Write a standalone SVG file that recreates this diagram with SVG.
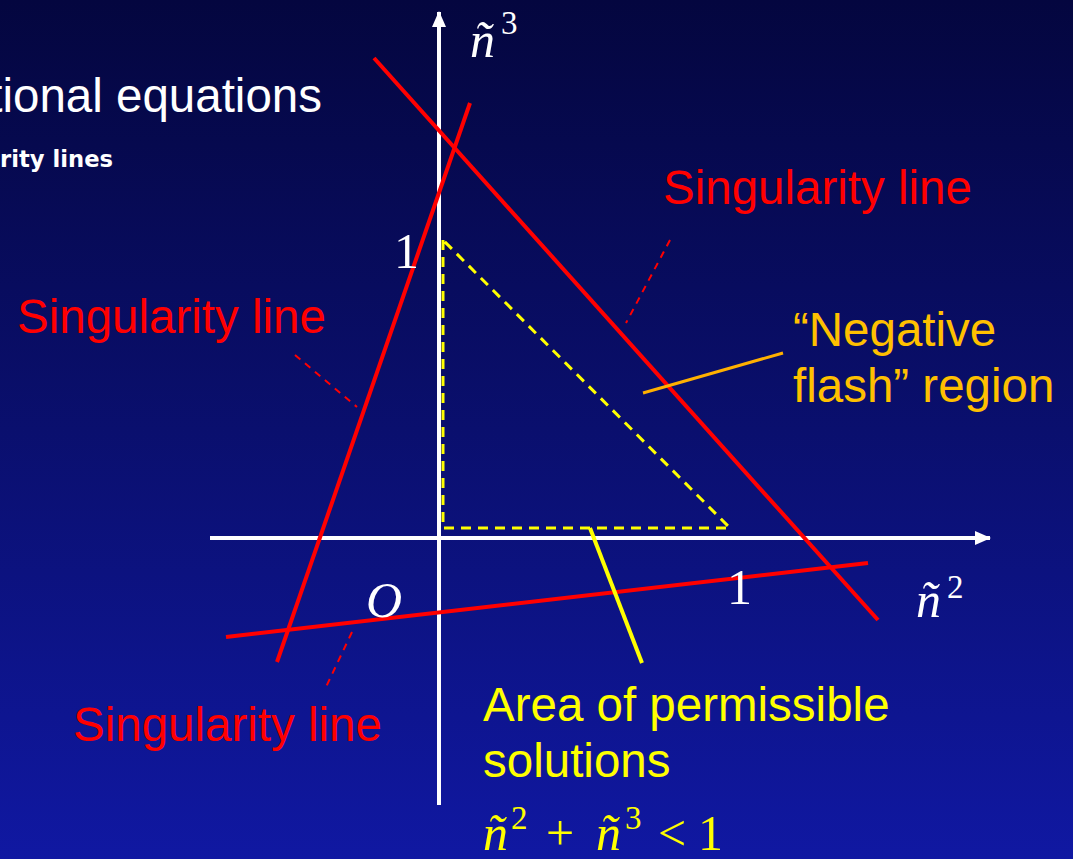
<svg xmlns="http://www.w3.org/2000/svg" width="1073" height="859" viewBox="0 0 1073 859">
<defs>
<linearGradient id="bg" x1="0" y1="0" x2="0" y2="1">
<stop offset="0" stop-color="#04063f"/>
<stop offset="0.5" stop-color="#0a0f6e"/>
<stop offset="1" stop-color="#1018a2"/>
</linearGradient>
<marker id="ah" markerWidth="16" markerHeight="14" refX="15" refY="7" orient="auto" markerUnits="userSpaceOnUse">
<path d="M0,0 L16,7 L0,14 Z" fill="#ffffff"/>
</marker>
</defs>
<style>
.sans{font-family:"Liberation Sans",Arial,sans-serif;font-size:47.5px}
.serif{font-family:"Liberation Serif","Times New Roman",serif}
.it{font-style:italic}
.red{fill:#ff0000}
.wht{fill:#ffffff}
.yel{fill:#ffff00}
.org{fill:#ffc000}
.axis{stroke:#ffffff;stroke-width:4;fill:none}
.sing{stroke:#ff0000;stroke-width:4;fill:none}
.lead{stroke:#ff0000;stroke-width:2;stroke-dasharray:7,6;fill:none}
.tri{stroke:#ffff00;stroke-width:3;stroke-dasharray:10,7;fill:none}
</style>
<rect x="0" y="0" width="1073" height="859" fill="url(#bg)"/>

<g id="title">
<text class="sans wht" x="322" y="112" text-anchor="end">tional equations</text>
<text x="0" y="167" fill="#ffffff" font-family="'DejaVu Sans',Verdana,sans-serif" font-weight="bold" font-size="23" textLength="113" lengthAdjust="spacingAndGlyphs">rity lines</text>
</g>

<g id="connectors">
<line class="axis" x1="439" y1="805" x2="439" y2="12" marker-end="url(#ah)"/>
<line class="axis" x1="210" y1="538" x2="990" y2="538" marker-end="url(#ah)"/>
<polyline class="tri" points="443,240 443,528 730,528 443,240"/>
<line class="sing" x1="277" y1="662" x2="470" y2="103"/>
<line class="sing" x1="374" y1="58" x2="878" y2="620"/>
<line class="sing" x1="226" y1="637" x2="868" y2="563"/>
<line class="lead" x1="670" y1="240" x2="626" y2="323"/>
<line class="lead" x1="295" y1="355" x2="357" y2="407"/>
<line class="lead" x1="352" y1="632" x2="326" y2="687"/>
<line x1="590" y1="528" x2="642" y2="663" stroke="#ffff00" stroke-width="4"/>
<line x1="643" y1="393" x2="783" y2="353" stroke="#ffb000" stroke-width="3"/>
</g>

<g id="label-sing-right"><text class="sans red" x="663" y="204">Singularity line</text></g>
<g id="label-sing-left"><text class="sans red" x="17" y="333">Singularity line</text></g>
<g id="label-sing-bottom"><text class="sans red" x="73" y="741">Singularity line</text></g>
<g id="label-negative"><text class="sans org" x="793" y="346">“Negative</text><text class="sans org" x="793" y="402">flash” region</text></g>
<g id="label-area"><text class="sans yel" x="483" y="721">Area of permissible</text><text class="sans yel" x="483" y="777">solutions</text></g>

<g id="axis-labels" class="serif wht">
<text x="470" y="57" font-size="50" class="it">ñ</text>
<text x="501" y="34" font-size="33">3</text>
<text x="394" y="268" font-size="50">1</text>
<text x="366" y="617" font-size="50" class="it">O</text>
<text x="727" y="604" font-size="50">1</text>
<text x="916" y="617" font-size="50" class="it">ñ</text>
<text x="947" y="598" font-size="33">2</text>
</g>

<g id="formula" class="serif yel">
<text x="483" y="850" font-size="50" class="it">ñ</text>
<text x="511" y="829" font-size="33">2</text>
<text x="546" y="850" font-size="50">+</text>
<text x="596" y="850" font-size="50" class="it">ñ</text>
<text x="625" y="829" font-size="33">3</text>
<text x="658" y="850" font-size="50">&lt;</text>
<text x="698" y="850" font-size="50">1</text>
</g>
</svg>
